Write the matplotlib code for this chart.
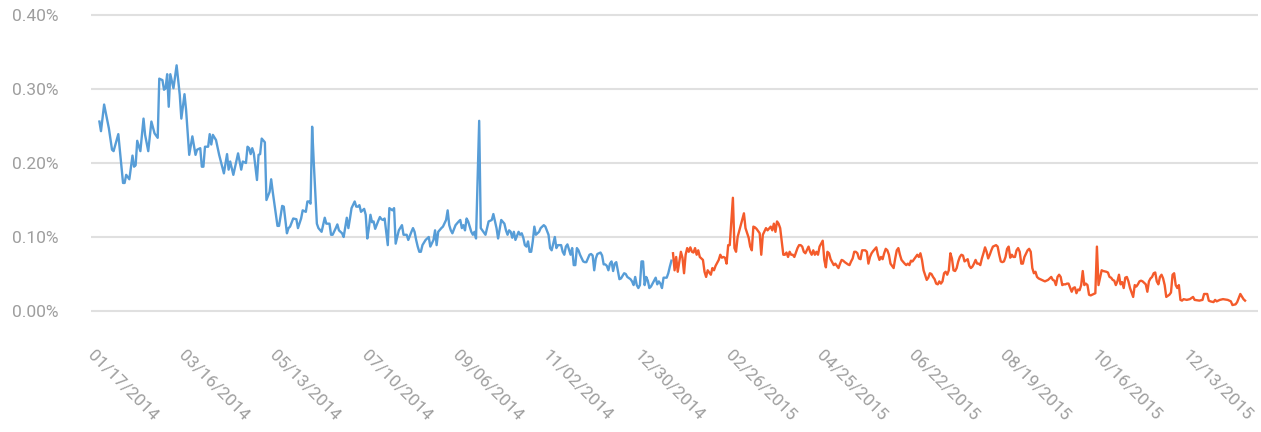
import matplotlib
matplotlib.use("Agg")
import matplotlib.pyplot as plt
from matplotlib.transforms import ScaledTranslation
import pandas as pd

plt.rcParams['font.family'] = ['Roboto', 'DejaVu Sans']

start = pd.Timestamp('2014-01-17')

# day offsets from 01/17/2014 and values in percent
blue_days = [0, 1, 3, 6, 8, 9, 12, 15, 16, 17, 19, 21, 22, 23, 24, 26, 28, 29, 31, 33,
             35, 37, 38, 40, 41, 42, 43, 44, 45, 47, 49, 51, 52, 54, 55, 57, 59, 61, 62, 64,
             65, 66, 67, 69, 70, 71, 72, 74, 76, 79, 81, 82, 83, 85, 87, 88, 90, 91, 93, 94,
             95, 96, 97, 98, 100, 101, 102, 103, 105, 106, 108, 109, 110, 113, 114, 116, 117, 119, 120, 121,
             123, 125, 126, 128, 129, 131, 132, 133, 134, 135, 136, 138, 139, 141, 143, 144, 146, 147, 148, 150,
             151, 152, 154, 155, 157, 158, 159, 160, 162, 163, 164, 165, 166, 168, 169, 170, 171, 172, 173, 174,
             175, 177, 178, 179, 180, 181, 183, 184, 186, 187, 188, 190, 192, 193, 195, 196, 198, 199, 200, 201,
             202, 203, 204, 205, 207, 209, 210, 212, 213, 214, 215, 217, 218, 220, 221, 222, 223, 224, 226, 228,
             229, 230, 231, 232, 233, 234, 236, 237, 238, 239, 241, 242, 245, 246, 247, 249, 250, 252, 253, 255,
             257, 258, 259, 260, 261, 262, 263, 264, 266, 267, 268, 269, 270, 271, 272, 273, 274, 275, 276, 277,
             279, 280, 281, 282, 283, 285, 286, 287, 288, 289, 290, 291, 293, 294, 295, 296, 297, 299, 300, 301,
             302, 303, 304, 305, 307, 308, 309, 311, 312, 313, 314, 315, 316, 318, 319, 320, 321, 322, 323, 324,
             325, 326, 327, 328, 330, 331, 333, 334, 335, 337, 338, 339, 340, 341, 342, 343, 344, 345, 346, 347,
             348, 349, 350, 351, 353, 354, 355, 356, 357, 358, 360, 361, 362, 363]
blue_vals = [.256, .243, .279, .247, .218, .216, .239, .173, .173, .184, .178, .210, .195, .197, .230, .216, .260, .238, .216, .256,
             .240, .234, .314, .312, .299, .301, .320, .276, .320, .301, .332, .292, .260, .293, .272, .211, .236, .211, .218, .220,
             .195, .195, .222, .222, .239, .225, .238, .231, .211, .186, .212, .191, .202, .184, .203, .213, .191, .202, .200, .222,
             .220, .212, .220, .213, .177, .211, .212, .233, .228, .150, .161, .178, .161, .115, .115, .142, .141, .105, .112, .114,
             .125, .124, .112, .125, .136, .134, .148, .148, .145, .249, .202, .118, .112, .107, .126, .118, .118, .103, .103, .112,
             .117, .109, .105, .100, .126, .112, .125, .139, .148, .141, .141, .143, .134, .138, .130, .098, .112, .130, .120, .121,
             .111, .122, .127, .124, .123, .125, .089, .139, .136, .139, .091, .109, .116, .103, .103, .096, .107, .112, .107, .096,
             .087, .080, .080, .089, .096, .100, .087, .096, .109, .089, .107, .112, .114, .123, .136, .116, .109, .105, .116, .121,
             .123, .112, .116, .109, .125, .121, .107, .103, .107, .098, .257, .112, .103, .112, .121, .123, .131, .112, .098, .123,
             .118, .109, .103, .109, .107, .099, .107, .096, .107, .103, .105, .099, .089, .087, .094, .080, .080, .094, .114, .103,
             .107, .112, .114, .116, .114, .103, .085, .082, .091, .100, .085, .089, .089, .080, .076, .087, .090, .076, .085, .062,
             .062, .085, .082, .076, .067, .066, .066, .076, .077, .075, .055, .071, .077, .079, .075, .063, .063, .061, .055, .064,
             .067, .054, .064, .066, .043, .044, .051, .050, .046, .043, .040, .035, .046, .035, .031, .035, .067, .067, .035, .046,
             .041, .031, .033, .037, .045, .036, .040, .037, .031, .045, .045, .051, .060, .068]

orange_days = [364, 365, 366, 367, 369, 370, 371, 372, 373, 374, 375, 376, 377, 378, 379, 380, 381, 383, 384, 385,
               386, 388, 389, 390, 391, 393, 394, 395, 396, 397, 398, 399, 400, 402, 403, 404, 405, 407, 409, 410,
               412, 413, 414, 415, 416, 417, 419, 420, 421, 423, 424, 426, 427, 428, 429, 430, 431, 432, 433, 434,
               435, 436, 437, 438, 439, 440, 441, 443, 444, 445, 446, 447, 448, 450, 451, 452, 453, 454, 455, 456,
               457, 459, 460, 461, 462, 463, 464, 466, 467, 469, 470, 471, 472, 473, 475, 476, 477, 478, 479, 480,
               481, 482, 483, 484, 486, 487, 488, 489, 490, 491, 493, 494, 495, 496, 497, 498, 499, 500, 501, 502,
               504, 505, 506, 507, 508, 509, 511, 512, 513, 514, 515, 516, 517, 519, 520, 521, 522, 523, 525, 526,
               527, 528, 529, 530, 531, 532, 533, 534, 535, 536, 537, 538, 539, 540, 541, 542, 543, 544, 545, 546,
               547, 548, 549, 551, 552, 553, 554, 555, 556, 557, 558, 559, 560, 561, 562, 563, 564, 565, 566, 567,
               569, 570, 571, 572, 573, 574, 575, 576, 577, 578, 579, 580, 581, 582, 583, 584, 585, 586, 587, 589,
               590, 591, 592, 593, 594, 595, 596, 598, 599, 600, 601, 602, 603, 604, 605, 606, 607, 608, 609, 610,
               611, 612, 613, 614, 615, 617, 618, 619, 620, 621, 622, 623, 624, 625, 626, 627, 628, 629, 630, 631,
               632, 633, 634, 636, 637, 639, 640, 641, 642, 643, 644, 645, 646, 647, 648, 649, 650, 651, 652, 653,
               654, 656, 657, 658, 659, 660, 661, 662, 664, 665, 666, 667, 668, 669, 670, 671, 672, 673, 674, 675,
               676, 677, 679, 680, 681, 682, 683, 684, 685, 686, 687, 688, 690, 692, 694, 695, 698, 700, 701, 703,
               704, 705, 707, 708, 709, 711, 713, 716, 718, 719, 721, 722, 724, 726, 727]
orange_vals = [.078, .055, .073, .053, .080, .072, .051, .076, .085, .080, .086, .080, .079, .085, .076, .082, .073, .069, .053, .046,
               .055, .049, .058, .055, .061, .069, .076, .072, .073, .072, .064, .089, .089, .153, .085, .080, .100, .116, .132, .112,
               .099, .087, .082, .114, .113, .111, .105, .076, .103, .112, .109, .114, .109, .118, .107, .121, .118, .112, .094, .076,
               .076, .079, .073, .080, .076, .076, .073, .085, .089, .089, .087, .080, .078, .087, .080, .076, .082, .076, .080, .076,
               .087, .095, .069, .059, .080, .078, .070, .062, .064, .058, .064, .069, .068, .066, .063, .062, .067, .071, .080, .080,
               .078, .071, .070, .082, .082, .080, .064, .073, .078, .081, .086, .076, .069, .073, .070, .078, .084, .082, .076, .064,
               .058, .071, .082, .085, .076, .069, .064, .062, .064, .062, .068, .067, .070, .076, .073, .078, .069, .055, .042, .045,
               .051, .050, .046, .043, .037, .036, .040, .037, .040, .051, .053, .049, .055, .078, .071, .055, .054, .058, .067, .073,
               .076, .075, .067, .070, .061, .058, .060, .064, .069, .064, .064, .062, .071, .078, .086, .080, .071, .076, .082, .087,
               .089, .087, .076, .067, .066, .067, .073, .084, .087, .072, .076, .073, .073, .082, .085, .080, .064, .064, .073, .082,
               .084, .080, .058, .051, .053, .046, .044, .042, .041, .040, .041, .042, .044, .046, .042, .041, .035, .046, .049, .046,
               .035, .036, .036, .037, .037, .026, .031, .032, .024, .029, .028, .035, .054, .035, .037, .035, .022, .021, .022, .023,
               .024, .087, .035, .055, .054, .053, .052, .046, .045, .042, .041, .035, .040, .049, .036, .039, .031, .045, .046, .040,
               .031, .019, .035, .033, .036, .040, .041, .040, .036, .026, .040, .044, .046, .051, .052, .040, .036, .046, .049, .044,
               .035, .019, .022, .025, .049, .051, .035, .031, .035, .015, .014, .016, .015, .016, .019, .015, .014, .015, .023, .023,
               .014, .013, .012, .015, .013, .015, .016, .015, .013, .008, .009, .012, .023, .016, .014]

y_ticks = [0.0, 0.1, 0.2, 0.3, 0.4]
x_tick_labels = ['01/17/2014', '03/16/2014', '05/13/2014', '07/10/2014', '09/06/2014', '11/02/2014',
                 '12/30/2014', '02/26/2015', '04/25/2015', '06/22/2015', '08/19/2015', '10/16/2015',
                 '12/13/2015']

blue_color = '#579dd7'
orange_color = '#f45b2b'
text_color = '#9e9e9e'
grid_color = '#e0e0e0'

fig = plt.figure(figsize=(12.61, 4.32), dpi=100)
ax = fig.add_axes([0.0722, 0.263, 0.9254, 0.7194])

ax.plot(start + pd.to_timedelta(blue_days, unit='D'), blue_vals, color=blue_color, lw=1.7)
ax.plot(start + pd.to_timedelta(orange_days, unit='D'), orange_vals, color=orange_color, lw=1.7)

ax.set_ylim(-0.01, 0.41)
ax.set_xlim(start - pd.Timedelta(days=5.3), start + pd.Timedelta(days=735.2))

ax.set_yticks(y_ticks)
ax.set_yticklabels([f"{v:.2f}%" for v in y_ticks])
ax.set_xticks(pd.to_datetime(x_tick_labels, format='%m/%d/%Y'))
ax.set_xticklabels(x_tick_labels)

ax.grid(axis='y', color=grid_color, lw=1.5)
ax.set_axisbelow(True)
for s in ax.spines.values():
    s.set_visible(False)

ax.tick_params(axis='both', length=0, colors=text_color, labelsize=12.5)
ax.tick_params(axis='y', pad=23.5)
ax.tick_params(axis='x', pad=25)

shift = ScaledTranslation(-10 / 100, 0, fig.dpi_scale_trans)
for lab in ax.get_xticklabels():
    lab.set_rotation(-45)
    lab.set_rotation_mode('anchor')
    lab.set_ha('left')
    lab.set_va('center')
    lab.set_transform(lab.get_transform() + shift)

fig.savefig('out.png', dpi=100)
